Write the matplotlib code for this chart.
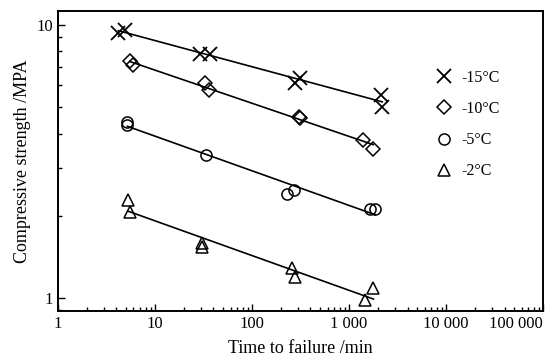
import matplotlib
matplotlib.use("Agg")
import matplotlib.pyplot as plt
import numpy as np
from matplotlib.ticker import FixedLocator, FixedFormatter, LogLocator, NullFormatter

# time to failure (min) and compressive strength (MPa)
t_m15 = [4.2, 4.9, 29, 37, 277, 312, 2150, 2200]
s_m15 = [9.35, 9.6, 7.85, 7.85, 6.1, 6.4, 5.55, 5.0]

t_m10 = [5.5, 6.0, 32.7, 36, 305, 315, 1390, 1770]
s_m10 = [7.35, 7.1, 6.1, 5.75, 4.6, 4.55, 3.8, 3.5]

t_m5 = [5.2, 5.2, 33.6, 230, 270, 1650, 1850]
s_m5 = [4.42, 4.28, 3.34, 2.40, 2.48, 2.12, 2.12]

t_m2 = [5.3, 5.5, 30.5, 30.5, 258, 277, 1450, 1780]
s_m2 = [2.29, 2.07, 1.59, 1.53, 1.29, 1.19, 0.98, 1.09]

labels = ["-15°C", "-10°C", "-5°C", "-2°C"]
markers = ["x", "D", "o", "^"]
msizes = [10, 7, 8, 9]

x_ticks = [1, 10, 100, 1000, 10000, 100000]
x_ticklabels = ["1", "10", "100", "1 000", "10 000", "100 000"]
y_ticks = [1, 10]
y_ticklabels = ["1", "10"]

plt.rcParams["font.family"] = ["Liberation Serif", "DejaVu Serif"]

fig = plt.figure(figsize=(5.52, 3.64), dpi=100)
ax = fig.add_axes([0.105, 0.146, 0.879, 0.824])

series = [(t_m15, s_m15), (t_m10, s_m10), (t_m5, s_m5), (t_m2, s_m2)]
for (t, s), lab, mk, ms in zip(series, labels, markers, msizes):
    lt, ls = np.log10(t), np.log10(s)
    k, b = np.polyfit(lt, ls, 1)
    xs = np.array([lt.min(), lt.max()])
    ax.plot(10 ** xs, 10 ** (k * xs + b), color="black", lw=1.2)
    ax.plot(t, s, linestyle="none", marker=mk, markersize=ms,
            markerfacecolor="none", markeredgecolor="black",
            markeredgewidth=1.3 if mk == "x" else 1.1, label=lab)

ax.set_xscale("log")
ax.set_yscale("log")
ax.set_xlim(1, 100000)
ax.set_ylim(0.896, 11.25)

ax.xaxis.set_major_locator(FixedLocator(x_ticks))
ax.xaxis.set_major_formatter(FixedFormatter(x_ticklabels))
ax.xaxis.set_minor_locator(LogLocator(base=10, subs=np.arange(2, 10)))
ax.xaxis.set_minor_formatter(NullFormatter())
ax.yaxis.set_major_locator(FixedLocator(y_ticks))
ax.yaxis.set_major_formatter(FixedFormatter(y_ticklabels))
ax.yaxis.set_minor_locator(LogLocator(base=10, subs=np.arange(2, 10)))
ax.yaxis.set_minor_formatter(NullFormatter())

ax.tick_params(which="both", direction="in", top=False, right=False,
               labelsize=12, width=1.0)
ax.tick_params(which="major", length=5)
ax.tick_params(which="minor", length=3)
for sp in ax.spines.values():
    sp.set_linewidth(1.4)

# last label sits inside the right edge, as in the original
ax.get_xticklabels()[-1].set_horizontalalignment("right")
ax.get_xticklabels()[-1].set_x(1)

ax.set_xlabel("Time to failure /min", fontsize=13, labelpad=6)
ax.set_ylabel("Compressive strength /MPA", fontsize=13, labelpad=4)

ax.legend(loc="upper left", bbox_to_anchor=(0.765, 0.825), frameon=False,
          fontsize=11.5, labelspacing=0.95, handlelength=1.0,
          handletextpad=0.6, borderaxespad=0)

fig.savefig("out.png", dpi=100)
